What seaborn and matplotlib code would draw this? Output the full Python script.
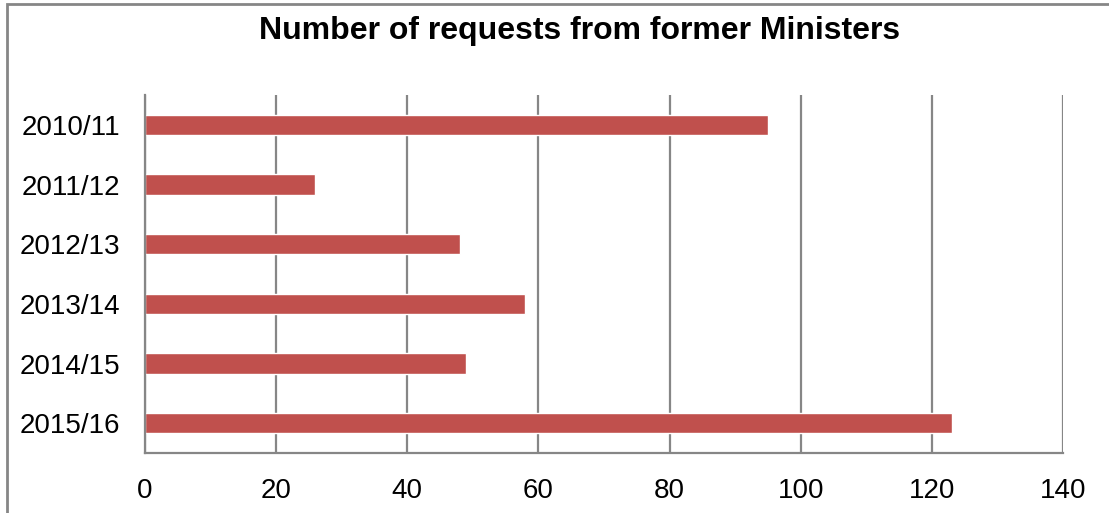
import matplotlib
matplotlib.use("Agg")
import matplotlib.pyplot as plt
import seaborn as sns
import pandas as pd
from matplotlib.patches import Rectangle

years = ["2010/11", "2011/12", "2012/13", "2013/14", "2014/15", "2015/16"]
requests = [95, 26, 48, 58, 49, 123]
x_ticks = [0, 20, 40, 60, 80, 100, 120, 140]
title = "Number of requests from former Ministers"

sns.set_style("white")
plt.rcParams['font.family'] = ['Liberation Sans', 'DejaVu Sans']

df = pd.DataFrame({"year": years, "requests": requests})

fig = plt.figure(figsize=(11.09, 5.13), dpi=100)
ax = fig.add_axes([145/1109, 1-453/513, (1063-145)/1109, (453-95)/513])

sns.barplot(data=df, x="requests", y="year", orient="h", color="#C0504D",
            saturation=1, width=0.34, ax=ax, order=years)

ax.set_xlim(0, 140)
ax.set_xticks(x_ticks)
ax.set_xlabel("")
ax.set_ylabel("")
ax.grid(axis="x", color="#868686", linewidth=1.6)
ax.set_axisbelow(True)
for s in ["top", "right"]:
    ax.spines[s].set_visible(False)
for s in ["left", "bottom"]:
    ax.spines[s].set_color("#868686")
    ax.spines[s].set_linewidth(1.6)
ax.tick_params(axis="both", length=0, labelsize=20, colors="black")
ax.tick_params(axis="x", pad=18)
ax.tick_params(axis="y", pad=18)

fig.text(580/1109, 1-31/513, title, ha="center", va="center",
         fontsize=23, fontweight="bold", color="black")

fig.patches.append(Rectangle((7/1109, -0.1), 1.2, 1-4/513+0.1, transform=fig.transFigure,
                             fill=False, edgecolor="#868686", linewidth=2))

fig.savefig("out.png", dpi=100)
